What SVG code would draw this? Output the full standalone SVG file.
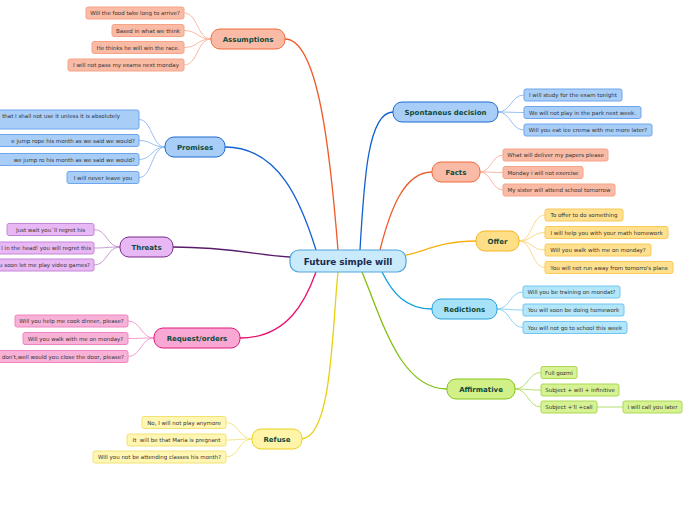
<svg xmlns="http://www.w3.org/2000/svg" width="696" height="520" viewBox="0 0 696 520">
<style>
text{font-family:"DejaVu Sans","Verdana",sans-serif}
.lt{font-size:5.5px;fill:#333333}
.mt{font-size:7px;font-weight:bold;fill:#0f4a3a;text-anchor:middle}
.ct{font-size:8.8px;font-weight:bold;fill:#1b2a4f;text-anchor:middle}
.m{fill:none;stroke-width:1.3}
.l{fill:none;stroke-width:0.9}
.sal{fill:#f9bba6;stroke:#f26a3c}
.sall{fill:#f9bba6;stroke:#f5a488}
.blu{fill:#a8cef8;stroke:#1e68d0}
.blul{fill:#a8cef8;stroke:#6ea6ee}
.pur{fill:#e8b8f4;stroke:#7a2a8a}
.purl{fill:#e8b8f4;stroke:#c486d8}
.pin{fill:#f8a8d2;stroke:#e2187c}
.pinl{fill:#f8b2d8;stroke:#f084c2}
.yel{fill:#fff4a8;stroke:#e8d020}
.yell{fill:#fff6b4;stroke:#f2e274}
.ora{fill:#ffde88;stroke:#f4b420}
.oral{fill:#ffe08e;stroke:#f8ca58}
.cya{fill:#a8e2f8;stroke:#22a2e0}
.cyal{fill:#b2e6f8;stroke:#70c6f0}
.gre{fill:#d2f088;stroke:#86c41a}
.grel{fill:#d6f292;stroke:#acd852}
</style>
<g id="connectors">
<path class="m" stroke="#f05a28" d="M285,39 C318,39 330,150 338,250"/>
<path class="m" stroke="#1060d0" d="M225,147 C280,147 302,205 316,250"/>
<path class="m" stroke="#5a1a6a" d="M173,247 C230,247 262,256 290,257"/>
<path class="m" stroke="#e8106e" d="M240,338 C288,338 306,300 316,272"/>
<path class="m" stroke="#e8d010" d="M302,439 C332,436 332,330 338,272"/>
<path class="m" stroke="#1060d0" d="M393,112 C368,112 364,180 360,250"/>
<path class="m" stroke="#f05a28" d="M432,172 C404,172 390,210 380,250"/>
<path class="m" stroke="#f8b010" d="M476,241 C440,241 424,252 406,255"/>
<path class="m" stroke="#10a0e0" d="M432,309 C405,309 392,292 382,272"/>
<path class="m" stroke="#80c010" d="M447,389 C400,389 382,320 362,272"/>
<g stroke="#f8b098" class="l">
<path d="M211,39 C197,39 198,13 184,13"/><path d="M211,39 C197,39 198,30.5 184,30.5"/><path d="M211,39 C197,39 198,47.5 184,47.5"/><path d="M211,39 C197,39 198,65 184,65"/>
</g>
<g stroke="#8ab8f0" class="l">
<path d="M165,147 C152,147 152,119.5 139,119.5"/><path d="M165,147 C152,147 152,140.5 139,140.5"/><path d="M165,147 C152,147 152,159.5 139,159.5"/><path d="M165,147 C152,147 152,177.5 139,177.5"/>
<path d="M498,112 C511,112 511,95 524,95"/><path d="M498,112 C511,112 511,112.5 524,112.5"/><path d="M498,112 C511,112 511,130 524,130"/>
</g>
<g stroke="#c090d0" class="l">
<path d="M120,247 C107,247 107,229.5 94,229.5"/><path d="M120,247 C107,247 107,248 94,248"/><path d="M120,247 C107,247 107,265 94,265"/>
</g>
<g stroke="#f490c8" class="l">
<path d="M154,338 C141,338 141,321 128,321"/><path d="M154,338 C141,338 141,338.5 128,338.5"/><path d="M154,338 C141,338 141,356.5 128,356.5"/>
</g>
<g stroke="#f2e27a" class="l">
<path d="M252,439 C239,439 239,422.5 226,422.5"/><path d="M252,439 C239,439 239,440 226,440"/><path d="M252,439 C239,439 239,457 226,457"/>
</g>
<g stroke="#f8b098" class="l">
<path d="M480,172 C491,172 492,155 503,155"/><path d="M480,172 C491,172 492,172.5 503,172.5"/><path d="M480,172 C491,172 492,190 503,190"/>
</g>
<g stroke="#fcd27a" class="l">
<path d="M519,241 C532,241 532,215 545,215"/><path d="M519,241 C532,241 532,232.5 545,232.5"/><path d="M519,241 C532,241 532,250 545,250"/><path d="M519,241 C532,241 532,267.5 545,267.5"/>
</g>
<g stroke="#80ccf0" class="l">
<path d="M497,309 C510,309 510,292 523,292"/><path d="M497,309 C510,309 510,310 523,310"/><path d="M497,309 C510,309 510,327.5 523,327.5"/>
</g>
<g stroke="#b0d860" class="l">
<path d="M515,389 C528,389 528,372.5 541,372.5"/><path d="M515,389 C528,389 528,390 541,390"/><path d="M515,389 C528,389 528,407 541,407"/><path d="M597,407 L623,407"/>
</g>
</g>
<g id="center"><rect x="290" y="250" width="116" height="22" rx="9" fill="#c8eafa" stroke="#4ea6dc" stroke-width="1.2"/><text class="ct" x="348" y="264.5">Future simple will</text></g>

<g id="assumptions"><rect class="sal" x="211" y="29" width="74" height="20" rx="9"/><text class="mt" x="248" y="41.5">Assumptions</text></g>
<g id="a1"><rect class="sall" x="86" y="7" width="98" height="12" rx="2"/><text class="lt" x="135" y="15" text-anchor="middle">Will the food take long to arrive?</text></g>
<g id="a2"><rect class="sall" x="112" y="24.5" width="72" height="12" rx="2"/><text class="lt" x="148" y="32.5" text-anchor="middle">Based in what we think</text></g>
<g id="a3"><rect class="sall" x="92" y="41.5" width="92" height="12" rx="2"/><text class="lt" x="138" y="49.5" text-anchor="middle">He thinks he will win the race.</text></g>
<g id="a4"><rect class="sall" x="68" y="59" width="116" height="12" rx="2"/><text class="lt" x="126" y="67" text-anchor="middle">I will not pass my exams next monday</text></g>

<g id="promises"><rect class="blu" x="165" y="137" width="60" height="20" rx="9"/><text class="mt" x="195" y="149.5">Promises</text></g>
<g id="p1"><rect class="blul" x="-60" y="110" width="199" height="19" rx="2"/><text class="lt" x="120" y="118" text-anchor="end">that I shall not use it unless it is absolutely</text></g>
<g id="p2"><rect class="blul" x="-60" y="134.5" width="199" height="12" rx="2"/><text class="lt" x="135" y="142.5" text-anchor="end">e jump rope his month as we said we would?</text></g>
<g id="p3"><rect class="blul" x="-60" y="153.5" width="199" height="12" rx="2"/><text class="lt" x="135" y="161.5" text-anchor="end">we jump ro his month as we said we would?</text></g>
<g id="p4"><rect class="blul" x="67" y="171.5" width="72" height="12" rx="2"/><text class="lt" x="103" y="179.5" text-anchor="middle">I will never leave you</text></g>

<g id="threats"><rect class="pur" x="120" y="237" width="53" height="20" rx="9"/><text class="mt" x="146.5" y="249.5">Threats</text></g>
<g id="t1"><rect class="purl" x="7" y="223.5" width="87" height="12" rx="2"/><text class="lt" x="50.5" y="231.5" text-anchor="middle">Just wait you´ll regret his</text></g>
<g id="t2"><rect class="purl" x="-60" y="242" width="154" height="12" rx="2"/><text class="lt" x="91" y="250" text-anchor="end">l in the head! you will regret this</text></g>
<g id="t3"><rect class="purl" x="-60" y="259" width="154" height="12" rx="2"/><text class="lt" x="90" y="267" text-anchor="end">u soon let me play video games?</text></g>

<g id="request"><rect class="pin" x="154" y="328" width="86" height="20" rx="9"/><text class="mt" x="197" y="340.5">Request/orders</text></g>
<g id="r1"><rect class="pinl" x="15" y="315" width="113" height="12" rx="2"/><text class="lt" x="71.5" y="323" text-anchor="middle">Will you help me cook dinner, please?</text></g>
<g id="r2"><rect class="pinl" x="23" y="332.5" width="105" height="12" rx="2"/><text class="lt" x="75.5" y="340.5" text-anchor="middle">Will you walk with me on monday?</text></g>
<g id="r3"><rect class="pinl" x="-60" y="350.5" width="188" height="12" rx="2"/><text class="lt" x="124" y="358.5" text-anchor="end">don't,well would you close the door, please?</text></g>

<g id="refuse"><rect class="yel" x="252" y="429" width="50" height="20" rx="9"/><text class="mt" x="277" y="441.5">Refuse</text></g>
<g id="f1"><rect class="yell" x="142" y="416.5" width="84" height="12" rx="2"/><text class="lt" x="184" y="424.5" text-anchor="middle">No, I will not play anymore</text></g>
<g id="f2"><rect class="yell" x="127" y="434" width="99" height="12" rx="2"/><text class="lt" x="176.5" y="442" text-anchor="middle" xml:space="preserve">It  will be that Maria is pregnant</text></g>
<g id="f3"><rect class="yell" x="93" y="451" width="133" height="12" rx="2"/><text class="lt" x="159.5" y="459" text-anchor="middle">Will you not be attending classes his month?</text></g>

<g id="spontaneus"><rect class="blu" x="393" y="102" width="105" height="20" rx="9"/><text class="mt" x="445.5" y="114.5">Spontaneus decision</text></g>
<g id="s1"><rect class="blul" x="524" y="89" width="98" height="12" rx="2"/><text class="lt" x="573" y="97" text-anchor="middle">I will study for the exam tonight</text></g>
<g id="s2"><rect class="blul" x="524" y="106.5" width="117" height="12" rx="2"/><text class="lt" x="582.5" y="114.5" text-anchor="middle">We will not play in the park next week.</text></g>
<g id="s3"><rect class="blul" x="524" y="124" width="128" height="12" rx="2"/><text class="lt" x="588" y="132" text-anchor="middle">Will you eat ice crema with me more later?</text></g>

<g id="facts"><rect class="sal" x="432" y="162" width="48" height="20" rx="9"/><text class="mt" x="456" y="174.5">Facts</text></g>
<g id="fa1"><rect class="sall" x="503" y="149" width="105" height="12" rx="2"/><text class="lt" x="555.5" y="157" text-anchor="middle">What will deliver my papers please</text></g>
<g id="fa2"><rect class="sall" x="503" y="166.5" width="80" height="12" rx="2"/><text class="lt" x="543" y="174.5" text-anchor="middle">Monday i will not exercise</text></g>
<g id="fa3"><rect class="sall" x="503" y="184" width="112" height="12" rx="2"/><text class="lt" x="559" y="192" text-anchor="middle">My sister will attend school tomorrow</text></g>

<g id="offer"><rect class="ora" x="476" y="231" width="43" height="20" rx="9"/><text class="mt" x="497.5" y="243.5">Offer</text></g>
<g id="o1"><rect class="oral" x="545" y="209" width="78" height="12" rx="2"/><text class="lt" x="584" y="217" text-anchor="middle">To offer to do something</text></g>
<g id="o2"><rect class="oral" x="545" y="226.5" width="123" height="12" rx="2"/><text class="lt" x="606.5" y="234.5" text-anchor="middle">I will help you with your math homework</text></g>
<g id="o3"><rect class="oral" x="545" y="244" width="106" height="12" rx="2"/><text class="lt" x="598" y="252" text-anchor="middle">Will you walk with me on monday?</text></g>
<g id="o4"><rect class="oral" x="545" y="261.5" width="128" height="12" rx="2"/><text class="lt" x="609" y="269.5" text-anchor="middle">You will not run away from tomorro's plans</text></g>

<g id="redictions"><rect class="cya" x="432" y="299" width="65" height="20" rx="9"/><text class="mt" x="464.5" y="311.5">Redictions</text></g>
<g id="d1"><rect class="cyal" x="523" y="286" width="97" height="12" rx="2"/><text class="lt" x="571.5" y="294" text-anchor="middle">Will you be training on mondat?</text></g>
<g id="d2"><rect class="cyal" x="523" y="304" width="101" height="12" rx="2"/><text class="lt" x="573.5" y="312" text-anchor="middle">You will soon be doing homework</text></g>
<g id="d3"><rect class="cyal" x="523" y="321.5" width="104" height="12" rx="2"/><text class="lt" x="575" y="329.5" text-anchor="middle">You will not go to school this week</text></g>

<g id="affirmative"><rect class="gre" x="447" y="379" width="68" height="20" rx="9"/><text class="mt" x="481" y="391.5">Affirmative</text></g>
<g id="g1"><rect class="grel" x="541" y="366.5" width="36" height="12" rx="2"/><text class="lt" x="559" y="374.5" text-anchor="middle">Full gozmi</text></g>
<g id="g2"><rect class="grel" x="541" y="384" width="78" height="12" rx="2"/><text class="lt" x="580" y="392" text-anchor="middle">Subject + will + infinitive</text></g>
<g id="g3"><rect class="grel" x="541" y="401" width="56" height="12" rx="2"/><text class="lt" x="569" y="409" text-anchor="middle">Subject +'ll +call</text></g>
<g id="g4"><rect class="grel" x="623" y="401" width="59" height="12" rx="2"/><text class="lt" x="652.5" y="409" text-anchor="middle">i will call you later</text></g>
</svg>
